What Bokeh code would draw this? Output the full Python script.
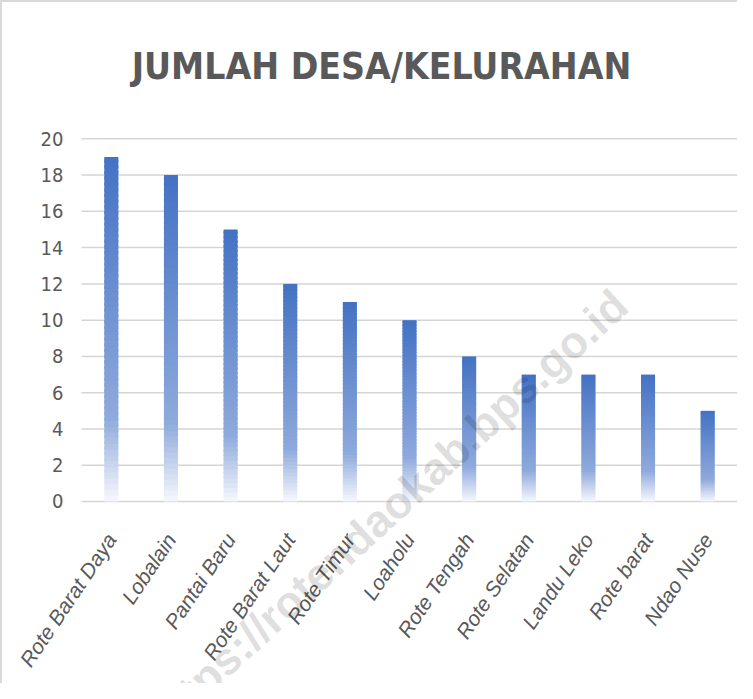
from bokeh.plotting import figure
from bokeh.models import Range1d, FixedTicker, Label
from bokeh.embed import file_html
from bokeh.resources import INLINE

# ---- data ----
categories = ["Rote Barat Daya", "Lobalain", "Pantai Baru", "Rote Barat Laut", "Rote Timur",
              "Loaholu", "Rote Tengah", "Rote Selatan", "Landu Leko", "Rote barat", "Ndao Nuse"]
values = [19, 18, 15, 12, 11, 10, 8, 7, 7, 7, 5]
y_ticks = [0, 2, 4, 6, 8, 10, 12, 14, 16, 18, 20]
title_text = "JUMLAH DESA/KELURAHAN"
watermark_text = "https://rotendaokab.bps.go.id"

# gradient (top -> bottom of each bar)
grad_pos = [0.0, 0.76, 1.0]
grad_rgb = [(68, 114, 196), (143, 170, 220), (246, 248, 253)]


def grad_color(t):
    for i in range(len(grad_pos) - 1):
        a, b = grad_pos[i], grad_pos[i + 1]
        if t <= b or i == len(grad_pos) - 2:
            f = min(max((t - a) / (b - a), 0.0), 1.0)
            c0, c1 = grad_rgb[i], grad_rgb[i + 1]
            r, g, bb = (round(c0[j] + (c1[j] - c0[j]) * f) for j in range(3))
            return "#%02x%02x%02x" % (r, g, bb)


idx = list(range(len(categories)))
N = 60
xs, bots, tops, cols = [], [], [], []
for i, v in zip(idx, values):
    step = v / N
    for k in range(N - 1, -1, -1):  # bottom slice first
        top = v * (1 - k / N)
        bot = v * (1 - (k + 1) / N)
        xs.append(i)
        bots.append(bot)
        tops.append(top + (step * 0.6 if k > 0 else 0))
        cols.append(grad_color((k + 0.5) / N))

# The frame covers the whole canvas so that nothing (rotated labels, watermark)
# gets clipped; axes are placed at fixed data locations inside it.
p = figure(
    x_range=Range1d(-1.8246, len(categories) - 0.5),
    y_range=Range1d(-10.036, 27.516),
    frame_width=735, frame_height=681,
    min_border_left=0, min_border_right=0, min_border_top=0, min_border_bottom=0,
    output_backend="svg", toolbar_location=None, title=None,
)
p.styles = {"border-top": "2px solid #d9d9d9", "border-left": "2px solid #d9d9d9"}
p.outline_line_color = None
p.background_fill_color = "white"
p.border_fill_color = "white"
p.xgrid.visible = False
p.ygrid.visible = False

# horizontal gridlines across the category span
n = len(categories)
p.segment(x0=[-0.5] * len(y_ticks), x1=[n - 0.5] * len(y_ticks), y0=y_ticks, y1=y_ticks,
          line_color="#d5d5d5", line_width=1.5)

p.vbar(x=xs, bottom=bots, top=tops, width=0.235, fill_color=cols, line_color=None)

# y axis
p.yaxis.fixed_location = -0.5
p.yaxis.ticker = FixedTicker(ticks=y_ticks)
p.yaxis.axis_line_color = None
p.yaxis.major_tick_line_color = None
p.yaxis.minor_tick_line_color = None
p.yaxis.major_label_standoff = 12
p.yaxis.major_label_text_font = "'Liberation Sans Narrow', 'DejaVu Sans Condensed', 'Liberation Sans', sans-serif"
p.yaxis.major_label_text_font_size = "20px"
p.yaxis.major_label_text_color = "#595959"

# x axis (categories)
p.xaxis.fixed_location = 0
p.xaxis.ticker = FixedTicker(ticks=idx)
p.xaxis.major_label_overrides = {i: c for i, c in zip(idx, categories)}
p.xaxis.axis_line_color = None
p.xaxis.major_tick_line_color = None
p.xaxis.minor_tick_line_color = None
p.xaxis.major_label_orientation = 0.98
p.xaxis.major_label_standoff = 28
p.xaxis.major_label_text_font = "Liberation Sans"
p.xaxis.major_label_text_font_style = "italic"
p.xaxis.major_label_text_font_size = "21px"
p.xaxis.major_label_text_color = "#595959"

# title
title = Label(x=4.53, y=23.98, text=title_text, text_align="center", text_baseline="alphabetic",
              text_font="'Liberation Sans Narrow', 'DejaVu Sans Condensed', 'Liberation Sans', sans-serif",
              text_font_style="bold", text_font_size="37px", text_color="#595959")
p.add_layout(title)

# watermark
wm = Label(x=8.54, y=11.2, text=watermark_text, angle=0.74,
           text_align="right", text_baseline="middle",
           text_font="Liberation Sans", text_font_style="bold", text_font_size="45px",
           text_color="#000000", text_alpha=0.14)
p.add_layout(wm)

open("out.html", "w").write(file_html(p, INLINE))
